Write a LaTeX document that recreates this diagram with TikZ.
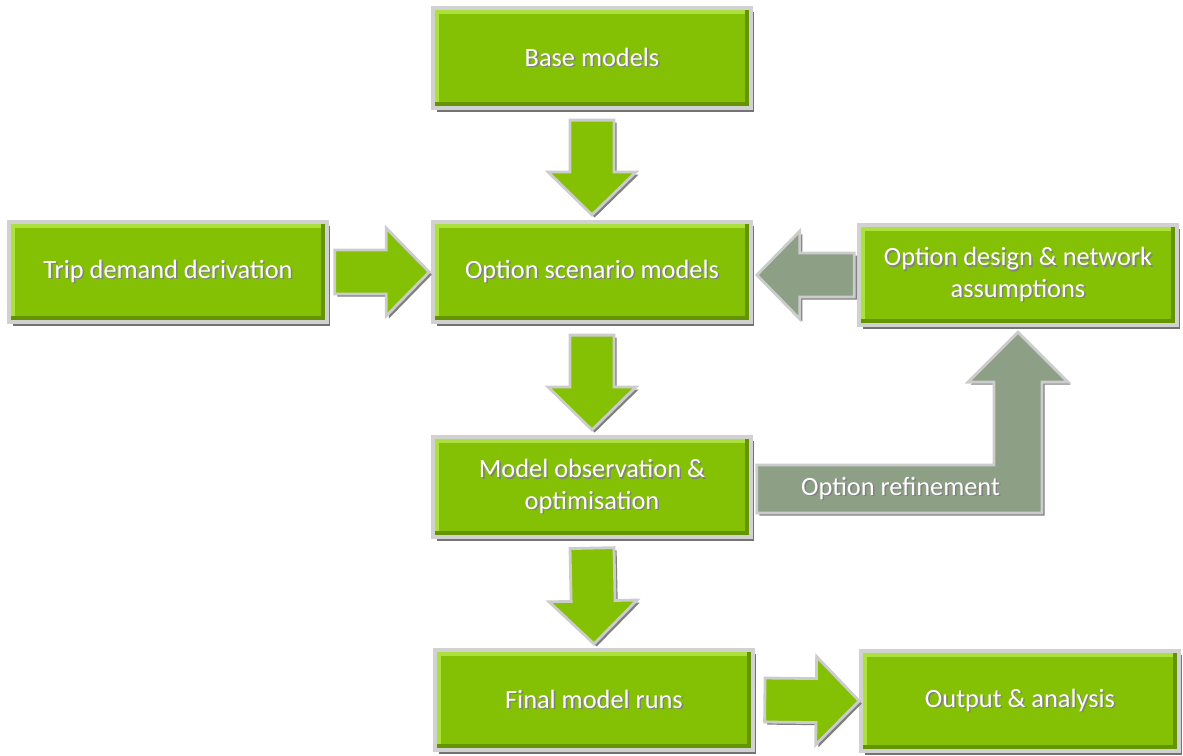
\documentclass[tikz,border=0pt]{standalone}
\usepackage{fontspec}
\setmainfont{Carlito}
\usetikzlibrary{calc,shadows}

\definecolor{stagegreen}{RGB}{132,193,4}
\definecolor{stagelight}{RGB}{172,224,62}
\definecolor{stagedark}{RGB}{100,148,0}
\definecolor{loopgrey}{RGB}{141,160,134}

% white lettering with a soft dark offset under it
\newcommand\embossed[1]{\makebox[0pt][l]{\hspace{0.9pt}\raisebox{-0.9pt}{\textcolor{black!50}{#1}}}#1}

% fat block arrow from #2 to #3
\newcommand\blockarrow[3][flowarrow]{%
  \coordinate (ba-s) at (#2);
  \coordinate (ba-e) at (#3);
  \coordinate (ba-h) at ($(ba-e)!0.86cm!(ba-s)$);
  \filldraw[#1] ($(ba-s)!0.44cm!90:(ba-e)$) -- ($(ba-h)!0.44cm!90:(ba-e)$)
    -- ($(ba-h)!0.88cm!90:(ba-e)$) -- (ba-e)
    -- ($(ba-h)!0.88cm!-90:(ba-e)$) -- ($(ba-h)!0.44cm!-90:(ba-e)$)
    -- ($(ba-s)!0.44cm!-90:(ba-e)$) -- cycle;}

\begin{document}
\begin{tikzpicture}[x=0.02cm, y=-0.02cm,
  stage/.style={draw=black!18, line width=2.4pt, fill=stagegreen,
    minimum width=6.35cm, minimum height=2cm, inner sep=2pt, align=center,
    text=white, font=\fontsize{15}{18}\selectfont,
    drop shadow={shadow xshift=2pt, shadow yshift=-2pt, fill=black!55, opacity=1},
    path picture={
      \draw[stagelight, line width=7pt] (path picture bounding box.south west)
        -- (path picture bounding box.north west) -- (path picture bounding box.north east);
      \draw[stagedark, line width=7pt] (path picture bounding box.north east)
        -- (path picture bounding box.south east) -- (path picture bounding box.south west);}},
  flowarrow/.style={fill=stagegreen, draw=black!20, line width=1.6pt, line join=miter,
    drop shadow={shadow xshift=1.5pt, shadow yshift=-1.5pt, fill=black!50, opacity=1}},
  looparrow/.style={flowarrow, fill=loopgrey},
  looplabel/.style={text=white, font=\fontsize{15}{18}\selectfont}]
\useasboundingbox (0,0) rectangle (1183,755);

% stages
\node[stage] (base) at (592,58) {\embossed{Base models}};
\node[stage] (trip) at (168,272) {\embossed{Trip demand derivation}};
\node[stage] (scen) at (592,272) {\embossed{Option scenario models}};
\node[stage] (design) at (1018,275) {\embossed{Option design \& network}\\\embossed{assumptions}};
\node[stage] (obs) at (592,487) {\embossed{Model observation \&}\\\embossed{optimisation}};
\node[stage] (final) at (594,700) {\embossed{Final model runs}};
\node[stage] (output) at (1020,701) {\embossed{Output \& analysis}};

% main flow
\blockarrow{$(base.south)+(0,10)$}{$(scen.north)+(0,-5)$}
\blockarrow{$(trip.east)+(6,0)$}{$(scen.west)+(-2,0)$}
\blockarrow{$(scen.south)+(0,11)$}{$(obs.north)+(0,-5)$}
\blockarrow{$(obs.south)+(0,9)$}{$(final.north)+(0,-4)$}
\blockarrow{$(final.east)+(10,0)$}{$(output.west)+(0,0)$}

% feedback loop
\blockarrow[looparrow]{$(design.west)+(-3,0)$}{$(scen.east |- design.west)+(4,0)$}
\coordinate (rs) at ($(obs.east)+(4,2)$);
\coordinate (rt) at ($(design.south)+(0,5)$);
\coordinate (rb) at (rt |- rs);
\filldraw[looparrow] ($(rs)+(0,-24)$) -- ($(rb)+(-24,-24)$) -- ($(rt)+(-24,50)$)
  -- ($(rt)+(-50,50)$) -- (rt) -- ($(rt)+(50,50)$) -- ($(rt)+(24,50)$)
  -- ($(rb)+(24,24)$) -- ($(rs)+(0,24)$) -- cycle;
\node[looplabel] (refine) at ($(rs)!0.55!(rb)$) {\embossed{Option refinement}};
\end{tikzpicture}
\end{document}
